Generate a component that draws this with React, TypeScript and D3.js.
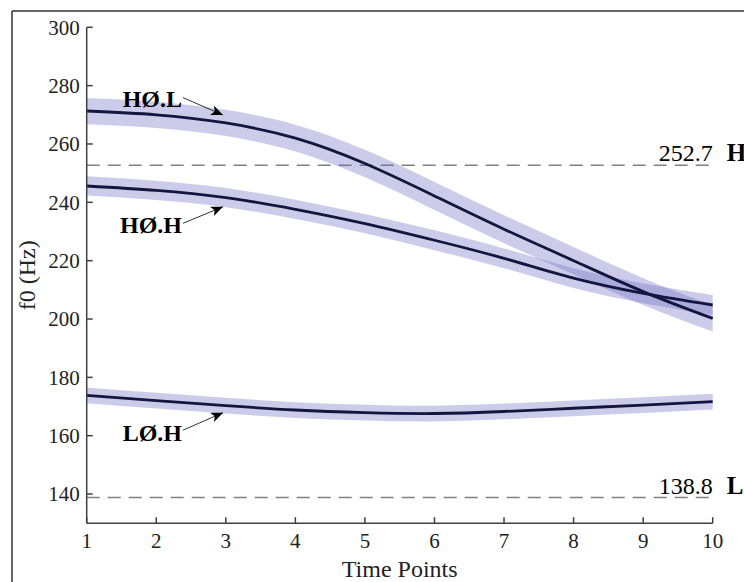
import React from "react";
import * as d3 from "d3";

const timePoints = [1, 2, 3, 4, 5, 6, 7, 8, 9, 10];
const hoLMean = [271.3, 270.0, 267.2, 262.0, 253.3, 242.2, 230.8, 220.0, 209.4, 200.2];
const hoLSe = [4.5, 4.5, 4.5, 4.6, 4.7, 4.8, 4.8, 4.7, 4.6, 4.5];
const hoHMean = [245.6, 244.1, 241.6, 237.6, 232.7, 227.0, 220.8, 214.0, 208.8, 204.8];
const hoHSe = [3.3, 3.3, 3.3, 3.3, 3.3, 3.4, 3.4, 3.4, 3.4, 3.4];
const loHMean = [173.8, 172.0, 170.3, 168.8, 167.9, 167.6, 168.3, 169.4, 170.5, 171.7];
const loHSe = [2.7, 2.7, 2.7, 2.7, 2.7, 2.7, 2.7, 2.7, 2.7, 2.7];

const yTicks = [140, 160, 180, 200, 220, 240, 260, 280, 300];
const xTicks = [1, 2, 3, 4, 5, 6, 7, 8, 9, 10];

const refValues = [252.7, 138.8];
const refLabels = ["H", "L"];

const annLabels = ["HØ.L", "HØ.H", "LØ.H"];
const annTextX = [2.37, 2.37, 2.37];
const annTextY = [272.7, 229.4, 158.3];
const annStartY = [275.9, 232.8, 161.9];
const annTipX = [2.96, 2.96, 2.96];
const annTipY = [269.9, 238.5, 167.9];

const seriesList = [
  { mean: hoLMean, se: hoLSe },
  { mean: hoHMean, se: hoHSe },
  { mean: loHMean, se: loHSe },
];

export default function App() {
  const W = 744;
  const H = 582;
  const x = d3.scaleLinear().domain([1, 10]).range([86.7, 712.7]);
  const y = d3.scaleLinear().domain([130, 300]).range([523.2, 27.3]);

  const area = d3
    .area<[number, number, number]>()
    .x((d) => x(d[0]))
    .y0((d) => y(d[1] - d[2]))
    .y1((d) => y(d[1] + d[2]))
    .curve(d3.curveNatural);
  const line = d3
    .line<[number, number]>()
    .x((d) => x(d[0]))
    .y((d) => y(d[1]))
    .curve(d3.curveNatural);

  const serif = "'Liberation Serif', 'Times New Roman', serif";
  const axisColor = "#404040";

  return (
    <svg
      width={W}
      height={H}
      style={{ position: "absolute", left: 0, top: 0, background: "#fff" }}
      fontFamily={serif}
    >
      <defs>
        <marker
          id="arrow"
          viewBox="0 0 12 10"
          refX="12"
          refY="5"
          markerWidth="12"
          markerHeight="10"
          markerUnits="userSpaceOnUse"
          orient="auto"
        >
          <path d="M0,0 L12,5 L0,10 L3,5 Z" fill="#000" />
        </marker>
      </defs>
      {/* outer frame */}
      <line x1={12} y1={11} x2={W + 5} y2={11} stroke="#333" strokeWidth={1.5} />
      <line x1={12} y1={11} x2={12} y2={H + 5} stroke="#333" strokeWidth={1.5} />

      {/* reference dashed lines */}
      {refValues.map((v, i) => (
        <g key={"ref" + i}>
          <line
            x1={x(1)}
            x2={x(10)}
            y1={y(v)}
            y2={y(v)}
            stroke="#808080"
            strokeWidth={1.5}
            strokeDasharray="13 8"
          />
          <text x={x(10)} y={y(v) - 4} textAnchor="end" fontSize={24} fill="#000">
            {v.toFixed(1)}
          </text>
          <text x={x(10) + 14} y={y(v) - 4} fontSize={25} fontWeight="bold" fill="#000">
            {refLabels[i]}
          </text>
        </g>
      ))}

      {/* bands */}
      {seriesList.map((s, i) => (
        <path
          key={"band" + i}
          d={area(timePoints.map((t, j) => [t, s.mean[j], s.se[j]]))!}
          fill="rgb(100,100,190)"
          fillOpacity={0.33}
          stroke="none"
        />
      ))}
      {/* lines */}
      {seriesList.map((s, i) => (
        <path
          key={"line" + i}
          d={line(timePoints.map((t, j) => [t, s.mean[j]]))!}
          fill="none"
          stroke="#15153f"
          strokeWidth={2.8}
        />
      ))}

      {/* axes */}
      <line x1={x(1)} x2={x(1)} y1={y(130)} y2={y(300)} stroke={axisColor} strokeWidth={1.5} />
      <line x1={x(1)} x2={x(10)} y1={y(130)} y2={y(130)} stroke={axisColor} strokeWidth={1.5} />
      {yTicks.map((t) => (
        <g key={"yt" + t}>
          <line x1={x(1)} x2={x(1) + 6} y1={y(t)} y2={y(t)} stroke={axisColor} strokeWidth={1.5} />
          <text x={x(1) - 7} y={y(t)} dy="0.35em" textAnchor="end" fontSize={21} fill="#222">
            {t}
          </text>
        </g>
      ))}
      {xTicks.map((t) => (
        <g key={"xt" + t}>
          <line x1={x(t)} x2={x(t)} y1={y(130)} y2={y(130) - 6} stroke={axisColor} strokeWidth={1.5} />
          <text x={x(t)} y={y(130) + 25} textAnchor="middle" fontSize={21} fill="#222">
            {t}
          </text>
        </g>
      ))}
      <text x={(x(1) + x(10)) / 2} y={577} textAnchor="middle" fontSize={24} fill="#222">
        Time Points
      </text>
      <text
        transform={`translate(35, ${(y(130) + y(300)) / 2}) rotate(-90)`}
        textAnchor="middle"
        fontSize={24}
        fill="#222"
      >
        f0 (Hz)
      </text>

      {/* annotations */}
      {annLabels.map((lab, i) => (
        <g key={"ann" + i}>
          <text x={x(annTextX[i])} y={y(annTextY[i])} textAnchor="end" fontSize={24} fontWeight="bold" fill="#000">
            {lab}
          </text>
          <line
            x1={x(annTextX[i]) + 1}
            y1={y(annStartY[i])}
            x2={x(annTipX[i])}
            y2={y(annTipY[i])}
            stroke="#000"
            strokeWidth={0.8}
            markerEnd="url(#arrow)"
          />
        </g>
      ))}
    </svg>
  );
}
